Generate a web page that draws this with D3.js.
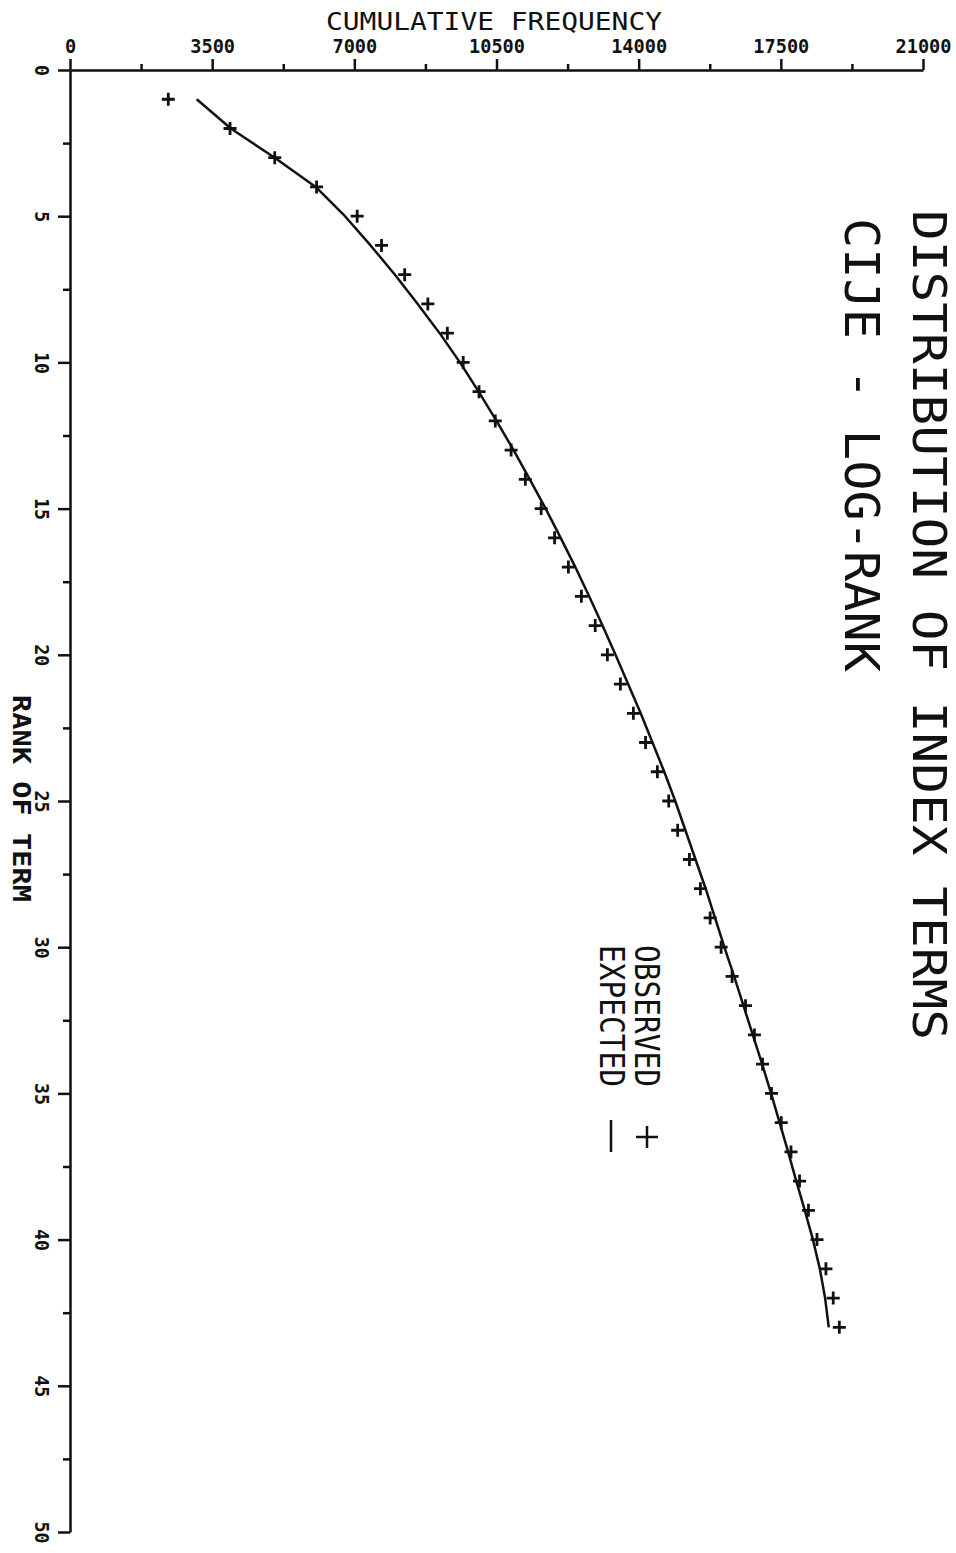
<!DOCTYPE html>
<html>
<head>
<meta charset="utf-8">
<script src="https://cdn.jsdelivr.net/npm/d3@7"></script>
<style>
  html, body { margin: 0; padding: 0; background: #fff; }
  text { font-family: 'DejaVu Sans Mono', monospace; fill: #111; }
</style>
</head>
<body>
<div id="chart"></div>
<script>
  'use strict';

  // rank of term (1..43)
  var ranks = [1, 2, 3, 4, 5, 6, 7, 8, 9, 10, 11, 12, 13, 14, 15, 16, 17, 18, 19, 20, 21,
    22, 23, 24, 25, 26, 27, 28, 29, 30, 31, 32, 33, 34, 35, 36, 37, 38, 39, 40, 41, 42, 43];

  // observed cumulative frequency (+)
  var observed = [2420, 3940, 5040, 6070, 7070, 7670, 8240, 8810, 9290, 9680, 10070, 10470,
    10860, 11210, 11600, 11930, 12270, 12590, 12930, 13230, 13550, 13870, 14170, 14460,
    14740, 14960, 15250, 15520, 15760, 16030, 16300, 16630, 16850, 17050, 17270, 17510,
    17750, 17960, 18180, 18390, 18610, 18790, 18940];

  // expected cumulative frequency (line)
  var expected = [3120, 3960, 5040, 6050, 6770, 7400, 8000, 8560, 9100, 9600, 10060, 10500,
    10920, 11320, 11710, 12080, 12440, 12780, 13110, 13430, 13740, 14050, 14340, 14630,
    14900, 15150, 15400, 15650, 15880, 16110, 16350, 16580, 16810, 17040, 17260, 17470,
    17680, 17880, 18090, 18290, 18460, 18590, 18680];

  var freqTicks = [0, 3500, 7000, 10500, 14000, 17500, 21000];
  var freqMinor = [1750, 5250, 8750, 12250, 15750, 19250];
  var rankTicks = [0, 5, 10, 15, 20, 25, 30, 35, 40, 45, 50];
  var rankMinor = [2.5, 7.5, 12.5, 17.5, 22.5, 27.5, 32.5, 37.5, 42.5, 47.5];

  var ink = '#111';
  var width = 956, height = 1553;

  var svg = d3.select('#chart').append('svg')
    .attr('width', width)
    .attr('height', height)
    .style('display', 'block');

  svg.append('rect').attr('width', width).attr('height', height).attr('fill', '#fff');

  var x = d3.scaleLinear().domain([0, 21000]).range([70, 923]);
  var y = d3.scaleLinear().domain([0, 50]).range([70, 1532]);

  // helper: rotated text reading top to bottom
  function vtext(bx, y0, str, size, len, weight) {
    svg.append('text')
      .attr('transform', 'translate(' + bx + ',' + y0 + ') rotate(90)')
      .attr('font-size', size)
      .attr('font-weight', weight || 'normal')
      .attr('textLength', len)
      .attr('lengthAdjust', 'spacingAndGlyphs')
      .text(str);
  }

  // top axis (cumulative frequency)
  var xAxis = svg.append('g')
    .attr('transform', 'translate(0,' + y(0) + ')')
    .call(d3.axisTop(x).tickValues(freqTicks).tickFormat(d3.format('d'))
      .tickSize(11).tickSizeOuter(0).tickPadding(6));

  xAxis.selectAll('text')
    .attr('font-size', 20)
    .attr('font-weight', 'bold')
    .attr('textLength', function(d) { return String(d).length * 11.2; })
    .attr('lengthAdjust', 'spacingAndGlyphs');

  svg.append('g')
    .attr('transform', 'translate(0,' + y(0) + ')')
    .call(d3.axisTop(x).tickValues(freqMinor).tickSize(6).tickFormat(''))
    .select('.domain').remove();

  // left axis (rank of term), labels turned sideways
  var yAxis = svg.append('g')
    .attr('transform', 'translate(' + x(0) + ',0)')
    .call(d3.axisLeft(y).tickValues(rankTicks).tickFormat(d3.format('d'))
      .tickSize(12).tickSizeOuter(0));

  yAxis.selectAll('text')
    .attr('x', null)
    .attr('dy', null)
    .attr('text-anchor', 'middle')
    .attr('transform', 'translate(-35,0) rotate(90)')
    .attr('font-size', 20)
    .attr('font-weight', 'bold')
    .attr('textLength', function(d) { return String(d).length * 11; })
    .attr('lengthAdjust', 'spacingAndGlyphs');

  svg.append('g')
    .attr('transform', 'translate(' + x(0) + ',0)')
    .call(d3.axisLeft(y).tickValues(rankMinor).tickSize(7).tickFormat(''))
    .select('.domain').remove();

  svg.selectAll('.domain, .tick line')
    .attr('stroke', ink)
    .attr('stroke-width', 2.5);

  // axis titles
  svg.append('text')
    .attr('x', 326)
    .attr('y', 30)
    .attr('font-size', 24)
    .attr('textLength', 336)
    .attr('lengthAdjust', 'spacingAndGlyphs')
    .text('CUMULATIVE FREQUENCY');

  vtext(13, 695, 'RANK OF TERM', 25, 207, 'bold');

  // chart title
  vtext(913, 210, 'DISTRIBUTION OF INDEX TERMS', 46, 830);
  vtext(845, 218, 'CIJE - LOG-RANK', 48, 454);

  // expected line
  var line = d3.line()
    .x(function(d, i) { return x(expected[i]); })
    .y(function(d) { return y(d); });

  svg.append('path')
    .datum(ranks)
    .attr('d', line)
    .attr('fill', 'none')
    .attr('stroke', ink)
    .attr('stroke-width', 2.5)
    .attr('stroke-linejoin', 'round');

  // observed points
  function plusPath(s) {
    return 'M' + (-s) + ',0H' + s + 'M0,' + (-s) + 'V' + s;
  }

  svg.selectAll('.obs')
    .data(ranks)
    .enter()
    .append('path')
    .attr('class', 'obs')
    .attr('transform', function(d, i) { return 'translate(' + x(observed[i]) + ',' + y(d) + ')'; })
    .attr('d', plusPath(6.5))
    .attr('fill', 'none')
    .attr('stroke', ink)
    .attr('stroke-width', 2.8);

  // legend
  vtext(635, 945, 'OBSERVED', 34, 142);
  vtext(600, 945, 'EXPECTED', 34, 142);

  svg.append('path')
    .attr('transform', 'translate(647,1137)')
    .attr('d', plusPath(11))
    .attr('fill', 'none')
    .attr('stroke', ink)
    .attr('stroke-width', 2.5);

  svg.append('line')
    .attr('x1', 611).attr('x2', 611)
    .attr('y1', 1120).attr('y2', 1152)
    .attr('stroke', ink)
    .attr('stroke-width', 2.5);
</script>
</body>
</html>
